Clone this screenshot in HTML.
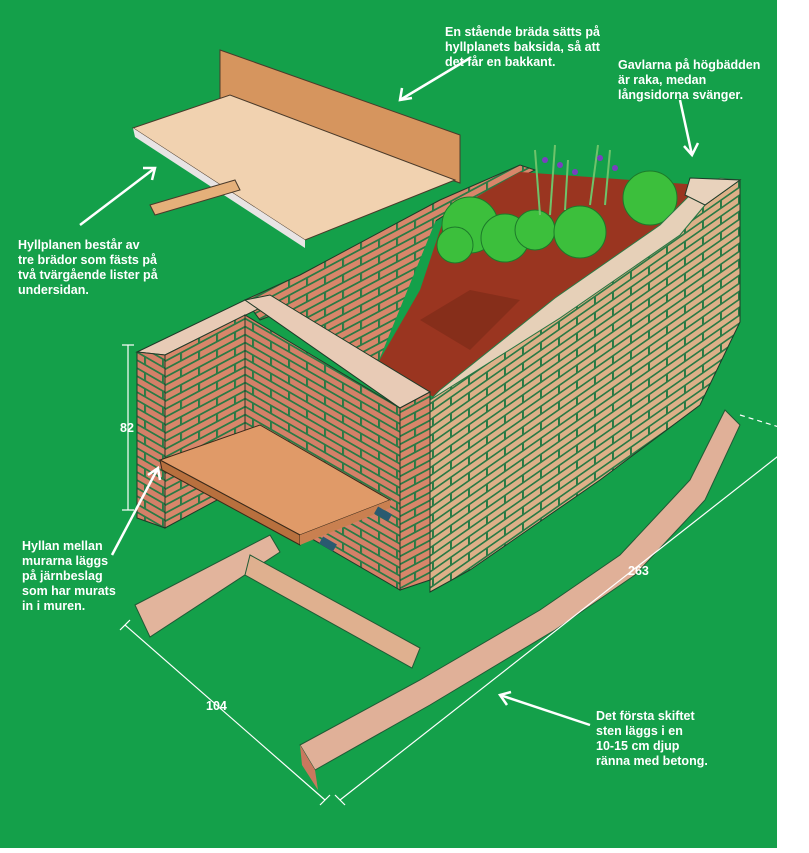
<!DOCTYPE html>
<html><head><meta charset="utf-8"><style>
html,body{margin:0;padding:0;background:#fff}
.t{font-family:"Liberation Sans",sans-serif;font-weight:bold;font-size:12.5px;fill:#fff}
</style></head><body>
<svg width="809" height="848" viewBox="0 0 809 848" xmlns="http://www.w3.org/2000/svg">
<defs>
<pattern id="br" width="36" height="16" patternUnits="userSpaceOnUse" patternTransform="skewY(-28)">
<rect width="36" height="16" fill="#d8866a"/><rect width="36" height="2" fill="#2a7a45"/>
<rect x="0" y="0" width="2" height="8" fill="#2a7a45"/><rect x="18" y="8" width="2" height="8" fill="#2a7a45"/><rect y="8" width="36" height="2" fill="#2a7a45"/></pattern>
<pattern id="br2" width="36" height="16" patternUnits="userSpaceOnUse" patternTransform="skewY(30)">
<rect width="36" height="16" fill="#d48068"/><rect width="36" height="2" fill="#2a7a45"/>
<rect x="0" y="0" width="2" height="8" fill="#2a7a45"/><rect x="18" y="8" width="2" height="8" fill="#2a7a45"/><rect y="8" width="36" height="2" fill="#2a7a45"/></pattern>
<pattern id="by" width="36" height="16" patternUnits="userSpaceOnUse" patternTransform="skewY(-35)">
<rect width="36" height="16" fill="#ddb088"/><rect width="36" height="2" fill="#2a7a45"/>
<rect x="0" y="0" width="2" height="8" fill="#2a7a45"/><rect x="18" y="8" width="2" height="8" fill="#2a7a45"/><rect y="8" width="36" height="2" fill="#2a7a45"/></pattern>
</defs>
<rect width="777" height="848" fill="#14a04a"/>

<!-- footings -->
<polygon points="135,605 270,535 280,552 150,637" fill="#e2b49c" stroke="#1f5a35"/>
<polygon points="250,555 420,648 412,668 245,575" fill="#dfb08f" stroke="#1f5a35"/>
<polygon points="300,745 420,680 540,610 620,555 690,480 725,410 740,425 705,500 635,575 555,630 430,705 315,770" fill="#e0b098" stroke="#1f5a35"/>
<polygon points="300,745 315,770 318,790 302,765" fill="#c9785e"/>

<!-- bed back wall -->
<polygon points="245,300 300,275 440,200 520,165 535,170 445,215 310,300 260,320" fill="url(#br)" stroke="#1f3a28"/>
<polygon points="285,300 440,210 375,370 310,340" fill="url(#br)"/>
<!-- soil -->
<polygon points="375,368 420,290 445,215 520,172 700,185 660,230 560,300 440,400" fill="#9a3520"/>
<polygon points="420,320 470,290 520,300 470,350" fill="#7a2a18" opacity=".6"/>
<!-- plants -->
<g fill="#3cbf3c" stroke="#1c7a2a">
<circle cx="470" cy="225" r="28"/><circle cx="505" cy="238" r="24"/><circle cx="535" cy="230" r="20"/><circle cx="580" cy="232" r="26"/><circle cx="650" cy="198" r="27"/><circle cx="455" cy="245" r="18"/>
</g>
<g stroke="#6fc36a" stroke-width="2"><line x1="540" y1="215" x2="535" y2="150"/><line x1="550" y1="215" x2="555" y2="145"/><line x1="590" y1="205" x2="598" y2="145"/><line x1="605" y1="205" x2="610" y2="150"/><line x1="565" y1="210" x2="568" y2="160"/></g>
<g fill="#7a3fc0"><circle cx="545" cy="160" r="3"/><circle cx="560" cy="165" r="3"/><circle cx="600" cy="158" r="3"/><circle cx="615" cy="168" r="3"/><circle cx="575" cy="172" r="3"/></g>

<!-- front curved wall -->
<polygon points="430,400 560,318 680,235 705,205 740,180 740,322 700,405 600,480 470,570 430,592" fill="url(#by)" stroke="#1f3a28"/>
<polygon points="430,400 560,318 680,235 705,205 740,180 720,178 690,195 660,225 555,298 440,390" fill="#e6d0b8" stroke="#2a7a45"/>
<polygon points="690,178 740,180 705,205 685,195" fill="#e8d2bc" stroke="#1f3a28"/>

<!-- left L wall -->
<polygon points="137,352 245,300 260,308 165,355" fill="#e8cbb6" stroke="#1f3a28"/>
<polygon points="137,352 165,355 165,528 137,518" fill="url(#br2)" stroke="#1f3a28"/>
<polygon points="165,355 245,315 245,485 165,528" fill="url(#br)" stroke="#1f3a28"/>
<polygon points="245,300 270,295 430,392 400,408" fill="#e8cbb6" stroke="#1f3a28"/>
<polygon points="245,315 400,408 400,590 245,500" fill="url(#br2)" stroke="#1f3a28"/>
<polygon points="400,408 430,392 430,580 400,590" fill="url(#br)" stroke="#1f3a28"/>
<!-- shelf -->
<polygon points="160,460 260,425 390,500 300,535" fill="#e09a68" stroke="#3a2a1a"/>
<polygon points="160,460 300,535 300,545 162,470" fill="#b8703e" stroke="#3a2a1a"/>
<polygon points="300,535 390,500 390,508 300,545" fill="#c98050"/>
<rect x="375" y="510" width="16" height="8" fill="#2a5a70" transform="rotate(30 383 514)"/>
<rect x="320" y="540" width="16" height="8" fill="#2a5a70" transform="rotate(30 328 544)"/>
<!-- top shelf -->
<polygon points="220,50 460,135 460,183 220,98" fill="#d6955e" stroke="#4a3a2a"/>
<polygon points="133,128 230,95 455,180 305,240" fill="#f1d2b0" stroke="#4a3a2a"/>
<polygon points="133,128 305,240 305,248 135,137" fill="#e8e4e4"/>
<polygon points="150,205 235,180 240,190 155,215" fill="#e5b07a" stroke="#4a3a2a"/>

<!-- dims -->
<g stroke="#fff" stroke-width="1.2" fill="none">
<line x1="128" y1="345" x2="128" y2="510"/><line x1="122" y1="345" x2="134" y2="345"/><line x1="122" y1="510" x2="134" y2="510"/>
<line x1="125" y1="625" x2="325" y2="800"/><line x1="120" y1="630" x2="130" y2="620"/><line x1="320" y1="805" x2="330" y2="795"/>
<line x1="340" y1="800" x2="805" y2="435"/><line x1="335" y1="795" x2="345" y2="805"/>
<line x1="740" y1="415" x2="805" y2="435" stroke-dasharray="5,4"/>
</g>
<!-- arrows -->
<g stroke="#fff" stroke-width="2.5" fill="none">
<line x1="470" y1="58" x2="400" y2="100"/><polyline points="402,88 400,100 412,98"/>
<line x1="80" y1="225" x2="155" y2="168"/><polyline points="143,168 155,168 152,180"/>
<line x1="680" y1="100" x2="692" y2="155"/><polyline points="684,146 692,155 698,143"/>
<line x1="112" y1="555" x2="158" y2="468"/><polyline points="148,475 158,468 160,480"/>
<line x1="590" y1="725" x2="500" y2="695"/><polyline points="511,692 500,695 507,705"/>
</g>
<text class="t" x="120" y="432">82</text>
<text class="t" x="206" y="710">104</text>
<text class="t" x="628" y="575">263</text>
<text class="t"><tspan x="445" y="36">En stående bräda sätts på</tspan><tspan x="445" y="51">hyllplanets baksida, så att</tspan><tspan x="445" y="66">det får en bakkant.</tspan></text>
<text class="t"><tspan x="618" y="69">Gavlarna på högbädden</tspan><tspan x="618" y="84">är raka, medan</tspan><tspan x="618" y="99">långsidorna svänger.</tspan></text>
<text class="t"><tspan x="18" y="249">Hyllplanen består av</tspan><tspan x="18" y="264">tre brädor som fästs på</tspan><tspan x="18" y="279">två tvärgående lister på</tspan><tspan x="18" y="294">undersidan.</tspan></text>
<text class="t"><tspan x="22" y="550">Hyllan mellan</tspan><tspan x="22" y="565">murarna läggs</tspan><tspan x="22" y="580">på järnbeslag</tspan><tspan x="22" y="595">som har murats</tspan><tspan x="22" y="610">in i muren.</tspan></text>
<text class="t"><tspan x="596" y="720">Det första skiftet</tspan><tspan x="596" y="735">sten läggs i en</tspan><tspan x="596" y="750">10-15 cm djup</tspan><tspan x="596" y="765">ränna med betong.</tspan></text>
</svg>
</body></html>
